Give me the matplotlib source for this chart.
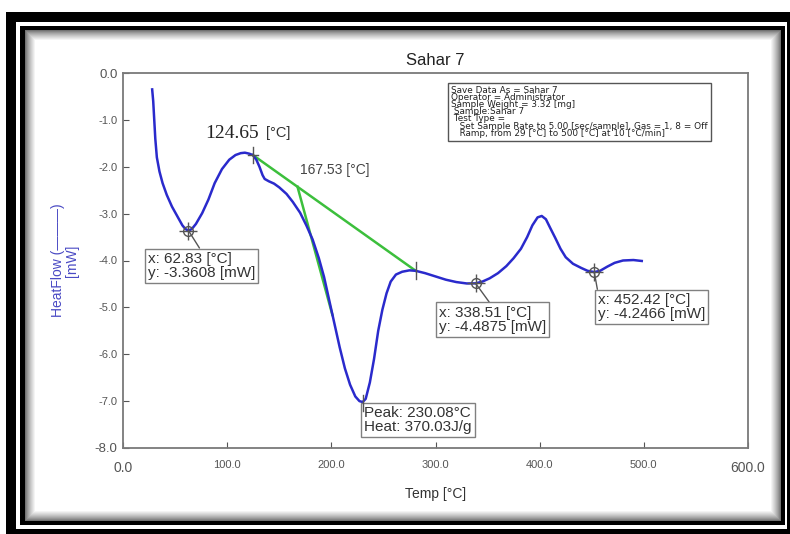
import matplotlib
matplotlib.use("Agg")
import matplotlib.pyplot as plt
from matplotlib.patches import Rectangle

plt.rcParams['font.family'] = ['Liberation Sans', 'DejaVu Sans']

# DSC heat-flow trace: temperature [°C] and heat flow [mW]
temp = [28, 29, 30, 31, 32.5, 35, 38, 42, 47, 52, 57, 60, 62.83, 66, 70, 76, 82, 88,
        95, 102, 108, 113, 117, 121, 124.65, 128, 131, 134, 136, 140, 145, 150, 157,
        163, 170, 176, 182, 188, 193, 198, 203, 208, 213, 218, 223, 227, 230.08, 233,
        237, 241, 245, 249, 253, 257, 262, 268, 275, 281, 290, 300, 310, 320, 330,
        338.51, 345, 352, 360, 368, 375, 382, 388, 393, 398, 402, 406, 410, 415, 420,
        425, 432, 440, 446, 452.42, 458, 465, 472, 480, 490, 498]
heat_flow = [-0.35, -0.6, -1.0, -1.4, -1.8, -2.1, -2.35, -2.6, -2.85, -3.05, -3.25,
             -3.33, -3.3608, -3.33, -3.22, -2.99, -2.7, -2.35, -2.05, -1.85, -1.75,
             -1.71, -1.70, -1.72, -1.75, -1.85, -2.0, -2.18, -2.26, -2.31, -2.36,
             -2.44, -2.58, -2.75, -2.98, -3.25, -3.55, -3.95, -4.35, -4.85, -5.35,
             -5.85, -6.3, -6.65, -6.9, -7.0, -7.02, -6.95, -6.6, -6.1, -5.5, -5.05,
             -4.7, -4.45, -4.3, -4.24, -4.21, -4.22, -4.27, -4.34, -4.41, -4.46,
             -4.49, -4.4875, -4.45, -4.38, -4.27, -4.12, -3.95, -3.75, -3.5, -3.25,
             -3.08, -3.05, -3.12, -3.3, -3.52, -3.75, -3.93, -4.07, -4.16, -4.22,
             -4.2466, -4.22, -4.13, -4.05, -4.0, -3.99, -4.01]

# Peak integration: baseline end points and tangent construction
baseline_T = [124.65, 281.0]
baseline_v = [-1.75, -4.22]
onset_T = 167.53
tangent_end = (201.0, -5.16)

# Cursor read-outs (temperature, heat flow)
cursors = [(62.83, -3.3608), (338.51, -4.4875), (452.42, -4.2466)]
peak_T, peak_v, peak_heat = 230.08, -7.02, 370.03

x_ticks = [0, 100, 200, 300, 400, 500, 600]
y_ticks = [0, -1, -2, -3, -4, -5, -6, -7, -8]

info_lines = [
    "Save Data As = Sahar 7",
    "Operator = Administrator",
    "Sample Weight = 3.32 [mg]",
    " Sample:Sahar 7",
    " Test Type =",
    "   Set Sample Rate to 5.00 [sec/sample], Gas = 1, 8 = Off",
    "   Ramp, from 29 [°C] to 500 [°C] at 10 [°C/min]",
]

W, H = 790, 534
fig = plt.figure(figsize=(W / 100, H / 100), dpi=100)

# ---- decorative double frame with inner shadow (pixel coordinates) ----
bg = fig.add_axes([0, 0, 1, 1], zorder=0)
bg.set_xlim(0, W)
bg.set_ylim(H, 0)
bg.axis('off')
bg.add_patch(Rectangle((6, 12), W + 10, H + 10, color='black', lw=0))
bg.add_patch(Rectangle((16, 22), 787 - 16, 529 - 22, color='white', lw=0))
bg.add_patch(Rectangle((20, 26), 785 - 20, 525 - 26, color='black', lw=0))
bg.add_patch(Rectangle((25, 30), 781 - 25, 521 - 30, color='#505050', lw=0))
steps = 11
for i in range(steps):
    g = 0.32 + 0.68 * ((i + 1) / steps) ** 0.7
    bg.add_patch(Rectangle((25 + i, 30 + i), 781 - 25 - 2 * i, 521 - 30 - 2 * i,
                           color=(g, g, g), lw=0))

# ---- main plot ----
ax = fig.add_axes([123 / W, 1 - 448 / H, 625 / W, 375 / H], zorder=1)
ax.set_facecolor('none')
ax.set_xlim(0, 600)
ax.set_ylim(-8, 0)
for s in ax.spines.values():
    s.set_color('#7a7a7a')
    s.set_linewidth(1.3)

ax.set_xticks(x_ticks)
ax.set_xticklabels([f"{t:.1f}" for t in x_ticks])
ax.set_yticks(y_ticks)
ax.set_yticklabels([f"{t:.1f}" for t in y_ticks])
ax.tick_params(direction='in', length=4, color='#555555', labelcolor='#555555',
               labelsize=8)
ax.tick_params(axis='x', pad=9)
ax.tick_params(axis='y', pad=4)
for lbl in (ax.get_xticklabels()[0], ax.get_xticklabels()[-1]):
    lbl.set_fontsize(10)
for lbl in (ax.get_yticklabels()[0], ax.get_yticklabels()[-1]):
    lbl.set_fontsize(9.5)

ax.set_title("Sahar 7", fontsize=12, color='#222222', pad=6)
ax.set_xlabel("Temp [°C]", fontsize=10, color='#333333', labelpad=9)
ax.set_ylabel("HeatFlow (———)\n[mW]", fontsize=10, color='#4a4ac4', linespacing=1.0)
ax.yaxis.set_label_coords(-0.071, 0.5)

# heat-flow curve
ax.plot(temp, heat_flow, color='#2a2acc', lw=1.8, zorder=3)

# integration baseline and onset tangent
ax.plot(baseline_T, baseline_v, color='#3cbf3c', lw=1.8, zorder=2)
onset_v = baseline_v[0] + (onset_T - baseline_T[0]) * (baseline_v[1] - baseline_v[0]) / (baseline_T[1] - baseline_T[0])
ax.plot([onset_T, tangent_end[0]], [onset_v, tangent_end[1]], color='#3cbf3c', lw=1.8, zorder=2)

# start/end ticks of the integration
for t, v in zip(baseline_T, baseline_v):
    ax.plot([t, t], [v + 0.18, v - 0.18], color='#555555', lw=1, zorder=4)
ax.plot([baseline_T[0] - 5, baseline_T[0] + 5], [baseline_v[0]] * 2, color='#555555', lw=1, zorder=4)

ax.text(78.5, -1.28, "124.65", fontsize=14, family=['Liberation Serif', 'DejaVu Serif'],
        color='#222222', va='center', ha='left')
ax.text(137.5, -1.28, "[°C]", fontsize=10.5, color='#333333', va='center', ha='left')
ax.text(169.5, -2.07, f"{onset_T:.2f} [°C]", fontsize=10, color='#444444', va='center', ha='left')

# cursor markers and read-out boxes
box_style = dict(boxstyle='square,pad=0.2', fc='white', ec='#808080', lw=1)
box_pos = [(24.0, -3.81), (303.5, -4.96), (456.0, -4.69)]
rel = [(0.5, 1), (0.49, 1), (0.0, 1)]
for (t, v), (bx, by), rp in zip(cursors, box_pos, rel):
    ax.plot(t, v, marker='o', ms=7, mfc='none', mec='#555555', mew=1, zorder=5)
    ax.plot(t, v, marker='+', ms=13, mec='#555555', mew=1, zorder=5)
    ax.annotate(f"x: {t:.2f} [°C]\ny: {v:.4f} [mW]", xy=(t, v), xytext=(bx, by),
                textcoords='data', fontsize=11, color='#333333', ha='left', va='top',
                linespacing=1.0, bbox=box_style, zorder=6,
                arrowprops=dict(arrowstyle='-', color='#555555', lw=1, relpos=rp,
                                shrinkA=0, shrinkB=0))

# peak read-out
ax.plot([peak_T, peak_T], [peak_v + 0.15, peak_v - 0.2], color='#555555', lw=1, zorder=7)
ax.text(peak_T + 1.5, -7.11, f"Peak: {peak_T:.2f}°C\nHeat: {peak_heat:.2f}J/g", fontsize=11,
        color='#333333', ha='left', va='top', linespacing=1.0, bbox=box_style, zorder=6)

# sample information box
ax.text(0.525, 0.966, "\n".join(info_lines), transform=ax.transAxes, fontsize=6.4,
        family=['DejaVu Sans'], color='#222222', ha='left', va='top', linespacing=0.74,
        bbox=dict(boxstyle='square,pad=0.35', fc='white', ec='#555555', lw=1), zorder=6)

fig.savefig("out.png", dpi=100)
